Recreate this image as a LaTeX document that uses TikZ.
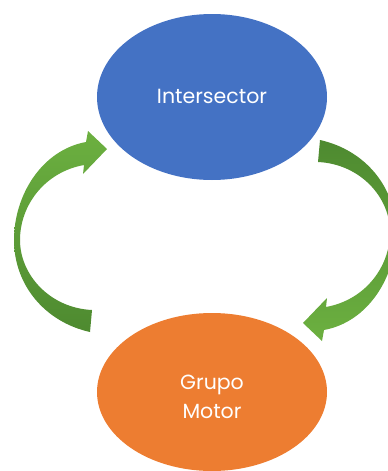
\documentclass[tikz,border=0pt]{standalone}
\usepackage{fontspec}
\setmainfont{Poppins}
\definecolor{nodeblue}{HTML}{4472C4}
\definecolor{nodeorange}{HTML}{ED7D31}
\definecolor{greenlight}{HTML}{6CB040}
\definecolor{greendark}{HTML}{4E8A30}
\tikzset{
  stateblob/.style={ellipse, minimum width=230pt, inner sep=0pt},
  blobtext/.style={text=white, font=\fontsize{20.5}{29}\selectfont, align=center, inner sep=0pt},
}
\usetikzlibrary{shapes.geometric}
\newcommand{\cyclearrowpath}{%
  (86,142) -- (88,131) -- (107,149) -- (83,174) -- (84,165)
  .. controls (45,172) and (20,205) .. (20,240)
  .. controls (20,275) and (50,308) .. (92,310)
  -- (90,332)
  .. controls (45,322) and (14,285) .. (14,240)
  .. controls (14,195) and (42,150) .. (86,142) -- cycle}
\begin{document}
\begin{tikzpicture}[x=1pt,y=-1pt]
\useasboundingbox (0,0) rectangle (388,471);
\clip (0,0) rectangle (388,471);
\node[stateblob, fill=nodeblue, minimum height=166pt] (inter) at (212,97) {};
\node[blobtext] (intertext) at (212,96) {Intersector};
\node[stateblob, fill=nodeorange, minimum height=158pt] (motor) at (212,392) {};
\node[blobtext] (motortext) at (212,397) {Grupo\\Motor};
\shade[top color=greenlight, bottom color=greendark] \cyclearrowpath;
\begin{scope}[rotate around={180:(205,236)}]
\shade[top color=greendark, bottom color=greenlight] \cyclearrowpath;
\end{scope}
\end{tikzpicture}
\end{document}
